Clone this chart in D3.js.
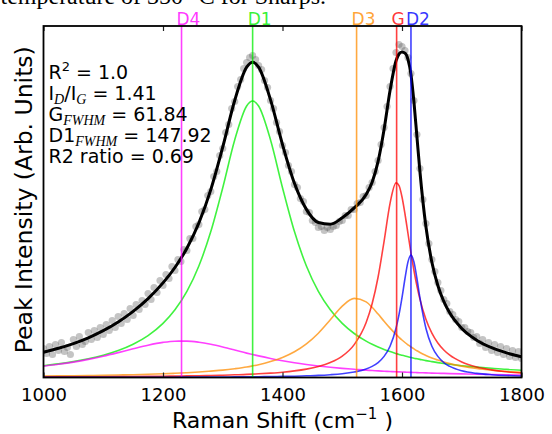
<!DOCTYPE html>
<html>
<head>
<meta charset="utf-8">
<script src="https://cdn.jsdelivr.net/npm/d3@7"></script>
<style>
  html, body { margin: 0; padding: 0; background: #fff; }
  svg { display: block; }
</style>
</head>
<body>
<script>
// Raman shift grid the fitted curves were read at (cm^-1)
const shift = [1000, 1025, 1050, 1075, 1100, 1125, 1150, 1175, 1200,
  1220, 1240, 1260, 1280, 1300, 1320, 1340, 1350,
  1360, 1380, 1400, 1420, 1440, 1460, 1480, 1500, 1520, 1540,
  1550, 1560, 1570, 1580, 1590, 1595, 1600,
  1605, 1610, 1615, 1620, 1625, 1630,
  1640, 1650, 1660, 1670, 1680,
  1700, 1725, 1750, 1775, 1800];

// fitted bands (arb. units)
const bandD1 = [11.8, 13.6, 15.9, 18.7, 22.3, 27.0, 33.3, 41.9, 54.1,
  67.7, 86.1, 111.5, 145.9, 189.8, 237.5, 271.5, 276.5,
  271.5, 237.5, 189.8, 145.9, 111.5, 86.1, 67.7, 54.1, 44.0, 36.4,
  33.3, 30.5, 28.1, 25.9, 24.0, 23.1, 22.3,
  21.5, 20.7, 20.0, 19.3, 18.7, 18.1,
  16.9, 15.9, 14.9, 14.0, 13.2,
  11.8, 10.4, 9.2, 8.1, 7.3];
const bandD4 = [11.3, 13.2, 15.4, 18.1, 21.3, 24.9, 28.7, 32.3, 35.1,
  36.3, 36.4, 35.3, 33.2, 30.5, 27.5, 24.4, 23.0,
  21.6, 19.0, 16.7, 14.7, 13.0, 11.5, 10.2, 9.1, 8.2, 7.3,
  7.0, 6.6, 6.3, 6.0, 5.7, 5.6, 5.5,
  5.4, 5.2, 5.1, 5.0, 4.9, 4.8,
  4.6, 4.4, 4.2, 4.1, 3.9,
  3.6, 3.3, 3.0, 2.7, 2.5];
const bandD3 = [1.5, 1.6, 1.8, 2.0, 2.2, 2.5, 2.8, 3.2, 3.7,
  4.2, 4.8, 5.5, 6.4, 7.4, 8.8, 10.5, 11.6,
  12.8, 15.9, 20.0, 25.7, 33.6, 44.3, 57.7, 71.4, 79.1, 75.6,
  70.2, 63.4, 56.3, 49.4, 43.1, 40.2, 37.5,
  35.0, 32.7, 30.5, 28.6, 26.7, 25.0,
  22.1, 19.5, 17.4, 15.5, 13.9,
  11.4, 9.0, 7.3, 6.0, 5.1];
const bandG = [0.6, 0.6, 0.7, 0.8, 0.8, 0.9, 1.0, 1.2, 1.3,
  1.4, 1.6, 1.8, 2.0, 2.3, 2.7, 3.1, 3.4,
  3.7, 4.4, 5.3, 6.6, 8.4, 11.0, 15.0, 21.4, 32.9, 55.0,
  73.7, 100.5, 136.2, 174.2, 194.6, 191.8, 180.5,
  163.5, 144.0, 124.7, 107.0, 91.5, 78.4,
  58.2, 44.3, 34.5, 27.5, 22.3,
  15.5, 10.5, 7.6, 5.7, 4.5];
const bandD2 = [0.1, 0.1, 0.2, 0.2, 0.2, 0.2, 0.2, 0.3, 0.3,
  0.3, 0.4, 0.4, 0.5, 0.5, 0.6, 0.7, 0.7,
  0.8, 0.9, 1.1, 1.3, 1.7, 2.1, 2.8, 3.8, 5.5, 8.5,
  11.1, 14.9, 21.1, 31.3, 49.3, 62.8, 79.8,
  99.0, 115.6, 122.5, 115.6, 99.0, 79.8,
  49.3, 31.3, 21.1, 14.9, 11.1,
  6.7, 4.1, 2.8, 2.0, 1.5];
const fitTotal = [25.3, 29.2, 33.9, 39.7, 46.8, 55.5, 66.1, 78.9, 94.6,
  110.0, 129.3, 154.5, 187.9, 230.5, 277.0, 310.3, 315.2,
  310.3, 277.6, 232.9, 194.2, 168.1, 155.0, 153.3, 159.8, 169.6, 182.9,
  195.2, 216.1, 248.0, 286.9, 316.7, 323.5, 325.5,
  324.3, 318.2, 302.9, 275.5, 240.7, 206.0,
  151.0, 115.3, 92.0, 76.0, 64.4,
  49.0, 37.3, 29.8, 24.6, 20.8];

// measured spectrum [shift, intensity]
const rawSpectrum = [
  [1000,29],[1005,24],[1010,31],[1015,23],[1020,33],[1025,27],[1030,35],[1035,26],[1040,30],[1045,23],
  [1050,38],[1055,31],[1060,41],[1065,33],[1070,36],[1075,45],[1080,38],[1085,47],[1090,40],[1095,50],
  [1100,43],[1105,53],[1110,47],[1115,57],[1120,50],[1125,61],[1130,54],[1135,64],[1140,58],[1145,69],
  [1150,62],[1155,73],[1160,68],[1165,77],[1170,73],[1175,84],[1180,78],[1185,90],[1190,85],[1195,97],
  [1200,92],[1205,103],[1210,99],[1215,111],[1220,107],[1225,118],[1230,116],[1235,128],[1240,127],[1245,139],
  [1250,139],[1255,151],[1260,153],[1265,166],[1270,168],[1275,182],[1280,186],[1285,201],[1290,206],[1295,222],
  [1300,229],[1305,245],[1310,253],[1315,269],[1320,276],[1325,291],[1330,298],[1335,309],[1340,315],[1345,320],
  [1350,322],[1355,318],[1360,312],[1365,308],[1370,297],[1375,290],[1380,277],[1385,269],[1390,255],[1395,246],
  [1400,232],[1405,225],[1410,212],[1415,206],[1420,193],[1425,190],[1430,179],[1435,176],[1440,166],[1445,165],
  [1450,157],[1455,155],[1460,150],[1465,151],[1470,147],[1475,150],[1480,148],[1485,151],[1490,152],[1495,156],
  [1500,157],[1505,162],[1510,162],[1515,168],[1520,168],[1525,174],[1530,175],[1535,181],[1540,182],[1545,190],
  [1550,195],[1555,206],[1560,217],[1565,233],[1570,250],[1575,271],[1580,291],[1585,309],[1590,325],[1595,333],
  [1600,331],[1605,327],[1610,320],[1615,304],[1620,277],[1625,243],[1630,209],[1635,178],[1640,154],[1645,134],
  [1650,118],[1655,106],[1660,95],[1665,87],[1670,78],[1675,74],[1680,66],[1685,63],[1690,58],[1695,56],
  [1700,50],[1705,50],[1710,46],[1715,45],[1720,40],[1725,41],[1730,34],[1735,38],[1740,30],[1745,35],
  [1750,27],[1755,33],[1760,25],[1765,31],[1770,23],[1775,29],[1780,21],[1785,27],[1790,20],[1795,26],[1800,19]
];

// band names and centres (cm^-1)
const peakNames = ['D4', 'D1', 'D3', 'G', 'D2'];
const peakCentres = [1231, 1350, 1524, 1591, 1615];

const xTicks = [1000, 1200, 1400, 1600, 1800];
const statValues = ['1.0', '1.41', '61.84', '147.92', '0.69'];

const width = 552, height = 434;
const margin = { top: 26, right: 30.5, bottom: 56.5, left: 43.5 };
const plotW = width - margin.left - margin.right;
const plotH = height - margin.top - margin.bottom;

const colours = { D4: '#ff00ff', D1: '#00ee00', D3: '#ff8c00', G: '#ff0000', D2: '#0000ff' };
const sans = '"DejaVu Sans", sans-serif';

const svg = d3.select('body').append('svg')
  .attr('width', width)
  .attr('height', height);

// cut-off line of the surrounding document text
svg.append('text')
  .attr('x', 326).attr('y', 4)
  .attr('text-anchor', 'end')
  .style('font-family', '"Liberation Serif", serif')
  .style('font-size', '24px')
  .text('temperature of 350 °C for Sharps.');

const g = svg.append('g').attr('transform', `translate(${margin.left},${margin.top})`);

const x = d3.scaleLinear().domain([1000, 1800]).range([0, plotW]);
const y = d3.scaleLinear().domain([0, 351.5]).range([plotH, 0]);

g.append('clipPath').attr('id', 'plot-clip')
  .append('rect').attr('width', plotW).attr('height', plotH);

const plot = g.append('g').attr('clip-path', 'url(#plot-clip)');

// raw points
plot.append('g').selectAll('circle')
  .data(rawSpectrum)
  .join('circle')
  .attr('cx', d => x(d[0]))
  .attr('cy', d => y(d[1]))
  .attr('r', 3.6)
  .attr('fill', '#555')
  .attr('fill-opacity', 0.35);

const line = d3.line()
  .x((d, i) => x(shift[i]))
  .y(d => y(d))
  .curve(d3.curveMonotoneX);

// total fit
plot.append('path')
  .attr('d', line(fitTotal))
  .attr('fill', 'none')
  .attr('stroke', '#000')
  .attr('stroke-width', 3);

// component bands
const bands = [
  { name: 'D1', values: bandD1 },
  { name: 'D4', values: bandD4 },
  { name: 'D3', values: bandD3 },
  { name: 'G', values: bandG },
  { name: 'D2', values: bandD2 }
];
plot.selectAll('.band')
  .data(bands)
  .join('path')
  .attr('class', 'band')
  .attr('d', d => line(d.values))
  .attr('fill', 'none')
  .attr('stroke', d => colours[d.name])
  .attr('stroke-opacity', 0.75)
  .attr('stroke-width', 1.6);

// band centre markers
g.selectAll('.centre')
  .data(peakNames)
  .join('line')
  .attr('class', 'centre')
  .attr('x1', (d, i) => x(peakCentres[i]))
  .attr('x2', (d, i) => x(peakCentres[i]))
  .attr('y1', 0)
  .attr('y2', plotH)
  .attr('stroke', d => colours[d])
  .attr('stroke-opacity', 0.75)
  .attr('stroke-width', 1.6);

g.selectAll('.centre-label')
  .data(peakNames)
  .join('text')
  .attr('class', 'centre-label')
  .attr('x', (d, i) => x(peakCentres[i]) - 5)
  .attr('y', -1)
  .style('font-family', sans)
  .style('font-size', '17px')
  .attr('fill', d => colours[d])
  .attr('fill-opacity', 0.8)
  .text(d => d);

// axes: inward ticks top and bottom
const xAxis = g.append('g')
  .attr('transform', `translate(0,${plotH})`)
  .call(d3.axisBottom(x).tickValues(xTicks).tickSize(-5).tickSizeOuter(0).tickFormat(d3.format('d')));
xAxis.select('.domain').remove();
xAxis.selectAll('line').attr('stroke', '#222').attr('stroke-width', 1.2);
xAxis.selectAll('text')
  .attr('y', 23).attr('dy', 0)
  .attr('fill', '#000')
  .style('font-family', sans)
  .style('font-size', '18px');

const topAxis = g.append('g')
  .call(d3.axisTop(x).tickValues(xTicks).tickSize(-5).tickSizeOuter(0).tickFormat(''));
topAxis.select('.domain').remove();
topAxis.selectAll('line').attr('stroke', '#222').attr('stroke-width', 1.2);

// frame
g.append('rect')
  .attr('width', plotW)
  .attr('height', plotH)
  .attr('fill', 'none')
  .attr('stroke', '#000')
  .attr('stroke-width', 1.8);

// axis titles
const xTitle = svg.append('text')
  .attr('x', margin.left + plotW / 2)
  .attr('y', 428)
  .attr('text-anchor', 'middle')
  .style('font-family', sans)
  .style('font-size', '22px');
xTitle.append('tspan').text('Raman Shift (cm');
xTitle.append('tspan').attr('dy', -9).style('font-size', '15px').text('\u22121');
xTitle.append('tspan').attr('dy', 9).text(' )');

svg.append('text')
  .attr('transform', `translate(32,${margin.top + plotH / 2 - 2}) rotate(-90)`)
  .attr('text-anchor', 'middle')
  .style('font-family', sans)
  .style('font-size', '23.5px')
  .text('Peak Intensity (Arb. Units)');

// fit statistics
const stats = g.append('g').attr('transform', 'translate(5,0)')
  .style('font-family', sans)
  .style('font-size', '19px');
const subStyle = t => t.style('font-family', '"Liberation Serif", serif')
  .style('font-style', 'italic').style('font-size', '14px');

const s1 = stats.append('text').attr('y', 53);
s1.append('tspan').text('R');
s1.append('tspan').attr('dy', -8).style('font-size', '13px').text('2');
s1.append('tspan').attr('dy', 8).text(`  = ${statValues[0]}`);

const s2 = stats.append('text').attr('y', 74);
s2.append('tspan').text('I');
s2.append('tspan').attr('dy', 4).call(subStyle).text('D');
s2.append('tspan').attr('dy', -4).text('/I');
s2.append('tspan').attr('dy', 4).call(subStyle).text('G');
s2.append('tspan').attr('dy', -4).text(` = ${statValues[1]}`);

const s3 = stats.append('text').attr('y', 95);
s3.append('tspan').text('G');
s3.append('tspan').attr('dy', 4).call(subStyle).text('FWHM');
s3.append('tspan').attr('dy', -4).text(` = ${statValues[2]}`);

const s4 = stats.append('text').attr('y', 116);
s4.append('tspan').text('D1');
s4.append('tspan').attr('dy', 4).call(subStyle).text('FWHM');
s4.append('tspan').attr('dy', -4).text(` = ${statValues[3]}`);

stats.append('text').attr('y', 137).text(`R2 ratio = ${statValues[4]}`);
</script>
</body>
</html>
